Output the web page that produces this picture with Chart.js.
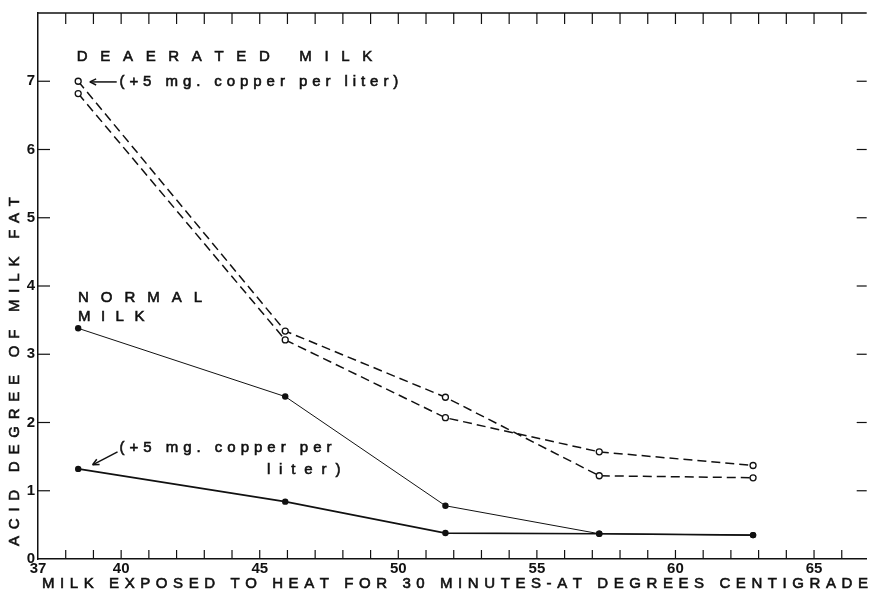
<!DOCTYPE html>
<html><head><meta charset="utf-8">
<script src="https://cdn.jsdelivr.net/npm/chart.js@4.4.1/dist/chart.umd.min.js"></script>
<style>html,body{margin:0;padding:0;background:#fff;}canvas{display:block;}</style>
</head><body>
<canvas id="c" width="872" height="592"></canvas>
<script>
// ---- data ----
const temperatures    = [38.45, 45.92, 51.7, 57.25, 62.8];
const deaeratedCopper = [7.0, 3.34, 2.37, 1.22, 1.19];
const deaeratedMilk   = [6.82, 3.21, 2.07, 1.57, 1.37];
const normalMilk      = [3.38, 2.38, 0.78, 0.37, 0.35];
const normalCopper    = [1.32, 0.84, 0.38, 0.37, 0.35];
const xTickValues = [37,38,39,40,41,42,43,44,45,46,47,48,49,50,51,52,53,54,55,56,57,58,59,60,61,62,63,64,65,66];
const xTickLabels = [37, 40, 45, 50, 55, 60, 65];
const yTickLabels = [0, 1, 2, 3, 4, 5, 6, 7];
const xTitle = 'MILK EXPOSED TO HEAT FOR 30 MINUTES-AT DEGREES CENTIGRADE';
const yTitle = 'ACID DEGREE OF MILK FAT';

// text notes placed in data units
const notes = [
  {text:'DEAERATED MILK', x0:38.4, x1:49.06, y:7.36},
  {text:'(+5 mg. copper per liter)', x0:39.94, x1:50.0, y:6.99},
  {text:'NORMAL', x0:38.44, x1:42.92, y:3.82},
  {text:'MILK', x0:38.44, x1:40.84, y:3.55},
  {text:'(+5 mg. copper per', x0:39.94, x1:47.59, y:1.63},
  {text:'liter)', x0:45.26, x1:47.91, y:1.30}
];
const arrows = [
  {from:[39.84, 6.99], to:[38.87, 6.99]},
  {from:[39.87, 1.57], to:[38.97, 1.38]}
];

const INK = '#111';
const FONT = "'Liberation Sans', Arial, sans-serif";
const pts = arr => temperatures.map((t,i)=>({x:t, y:arr[i]}));

function drawFit(ctx, text, x0, x1, y){
  const chars=[...text]; let nat=0;
  for(const ch of chars) nat+=ctx.measureText(ch).width;
  const sp=(x1-x0-nat)/(chars.length-1);
  let x=x0;
  for(const ch of chars){ ctx.fillText(ch,x,y); ctx.strokeText(ch,x,y); x+=ctx.measureText(ch).width+sp; }
}

const decor = {
  id:'decor',
  afterDraw(chart){
    const {ctx, chartArea:a, scales:{x, y}} = chart;
    ctx.save();
    ctx.strokeStyle=INK; ctx.lineWidth=1.5;
    // top frame line
    ctx.beginPath(); ctx.moveTo(a.left, a.top); ctx.lineTo(a.right, a.top); ctx.stroke();
    // inward ticks
    ctx.lineWidth=1.2;
    for(const v of xTickValues){
      if(v===37) continue;
      const px=x.getPixelForValue(v);
      ctx.beginPath(); ctx.moveTo(px,a.bottom); ctx.lineTo(px,a.bottom-9); ctx.stroke();
      ctx.beginPath(); ctx.moveTo(px,a.top); ctx.lineTo(px,a.top+11); ctx.stroke();
    }
    for(const v of yTickLabels){
      if(v===0) continue;
      const py=y.getPixelForValue(v);
      ctx.beginPath(); ctx.moveTo(a.left,py); ctx.lineTo(a.left+12,py); ctx.stroke();
      ctx.beginPath(); ctx.moveTo(a.right,py); ctx.lineTo(a.right-10,py); ctx.stroke();
    }
    // titles
    ctx.fillStyle=INK; ctx.textBaseline='middle'; ctx.textAlign='left';
    ctx.lineWidth=0.6;
    ctx.font='15px '+FONT;
    drawFit(ctx, xTitle, 42, 868, 584);
    ctx.save(); ctx.translate(15, 546); ctx.rotate(-Math.PI/2);
    drawFit(ctx, yTitle, 0, 349, 0);
    ctx.restore();
    // notes
    for(const n of notes){
      ctx.font = (n.text===n.text.toUpperCase()? '15px ' : '15px ')+FONT;
      drawFit(ctx, n.text, x.getPixelForValue(n.x0), x.getPixelForValue(n.x1), y.getPixelForValue(n.y));
    }
    // arrows
    ctx.lineWidth=1.5;
    for(const ar of arrows){
      const fx=x.getPixelForValue(ar.from[0]), fy=y.getPixelForValue(ar.from[1]);
      const tx=x.getPixelForValue(ar.to[0]),   ty=y.getPixelForValue(ar.to[1]);
      ctx.beginPath(); ctx.moveTo(fx,fy); ctx.lineTo(tx,ty); ctx.stroke();
      const ang=Math.atan2(ty-fy, tx-fx), L=7, w=0.45;
      ctx.beginPath();
      ctx.moveTo(tx,ty);
      ctx.lineTo(tx-L*Math.cos(ang-w), ty-L*Math.sin(ang-w));
      ctx.moveTo(tx,ty);
      ctx.lineTo(tx-L*Math.cos(ang+w), ty-L*Math.sin(ang+w));
      ctx.stroke();
    }
    ctx.restore();
  }
};

new Chart(document.getElementById('c'), {
  type:'line',
  data:{datasets:[
    {label:'Deaerated milk (+5 mg. copper per liter)', data:pts(deaeratedCopper), borderColor:INK, borderWidth:1.5, borderDash:[9,5],
     pointRadius:3, pointBackgroundColor:'#fff', pointBorderColor:INK, pointBorderWidth:1.3},
    {label:'Deaerated milk', data:pts(deaeratedMilk), borderColor:INK, borderWidth:1.5, borderDash:[9,5],
     pointRadius:3, pointBackgroundColor:'#fff', pointBorderColor:INK, pointBorderWidth:1.3},
    {label:'Normal milk', data:pts(normalMilk), borderColor:INK, borderWidth:1,
     pointRadius:3.2, pointBackgroundColor:INK, pointBorderColor:INK, pointBorderWidth:0},
    {label:'Normal milk (+5 mg. copper per liter)', data:pts(normalCopper), borderColor:INK, borderWidth:1.7,
     pointRadius:3.2, pointBackgroundColor:INK, pointBorderColor:INK, pointBorderWidth:0}
  ]},
  options:{
    responsive:false, animation:false, devicePixelRatio:1,
    layout:{padding:{top:13, right:1, left:0, bottom:0}},
    plugins:{legend:{display:false}, tooltip:{enabled:false}},
    elements:{line:{tension:0}},
    scales:{
      x:{type:'linear', min:37, max:66.9,
        afterBuildTicks:s=>{ s.ticks = xTickValues.map(v=>({value:v})); },
        afterFit:s=>{ s.height=33; },
        ticks:{autoSkip:false, maxRotation:0, padding:1, color:INK, font:{family:FONT, size:15, weight:'bold'},
          callback:v=> xTickLabels.includes(v) ? String(v) : ''},
        grid:{display:true, drawOnChartArea:false, drawTicks:false, color:'rgba(0,0,0,0)'},
        border:{display:true, color:INK, width:1.5}
      },
      y:{type:'linear', min:0, max:8,
        afterBuildTicks:s=>{ s.ticks = yTickLabels.map(v=>({value:v})); },
        afterFit:s=>{ s.width=38; },
        ticks:{autoSkip:false, padding:3, color:INK, font:{family:FONT, size:15, weight:'bold'},
          callback:v=> String(v)},
        grid:{display:true, drawOnChartArea:false, drawTicks:false, color:'rgba(0,0,0,0)'},
        border:{display:true, color:INK, width:1.5}
      }
    }
  },
  plugins:[decor]
});
</script>
</body></html>
